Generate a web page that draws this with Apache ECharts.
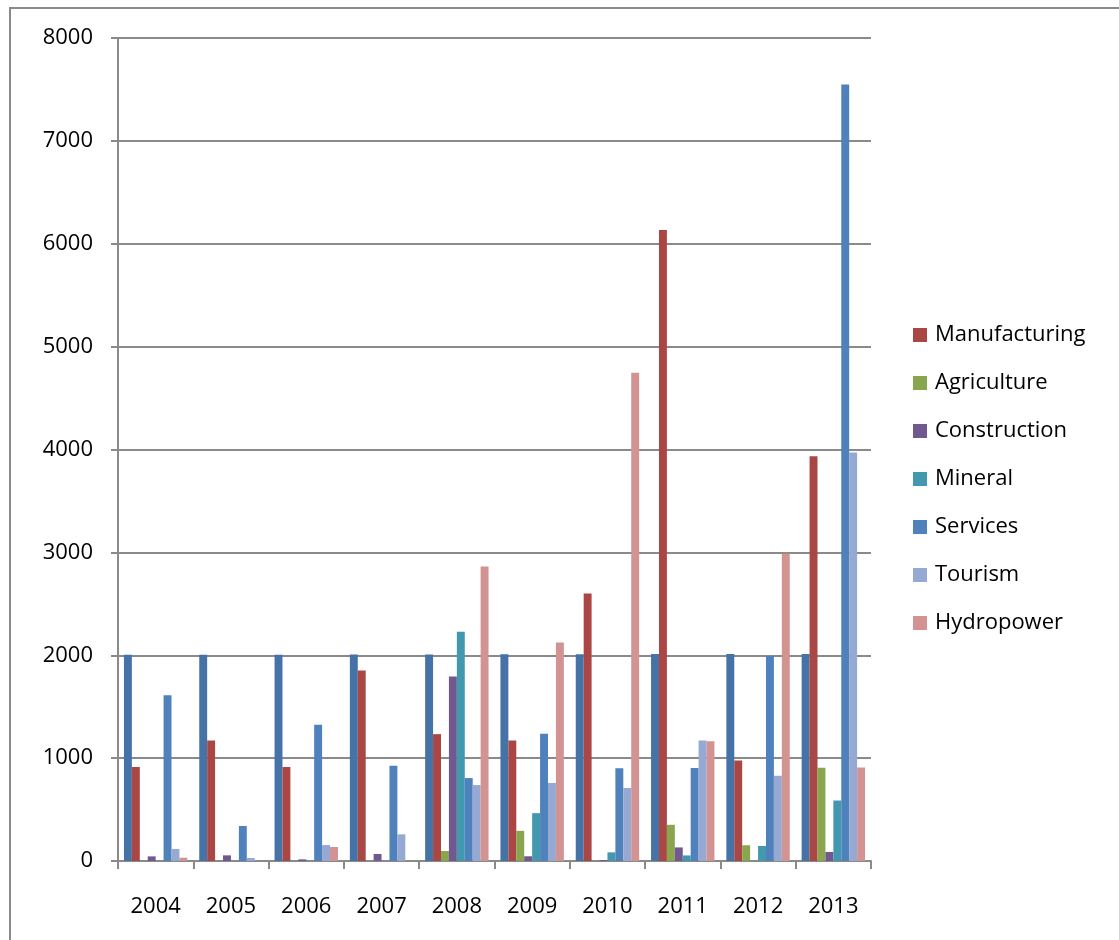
<!DOCTYPE html>
<html>
<head>
<meta charset="utf-8">
<title>Investment by sector, 2004–2013</title>
<script src="https://cdn.jsdelivr.net/npm/echarts@6/dist/echarts.min.js"></script>
<style>
  html, body { margin: 0; padding: 0; background: #ffffff; }
  #chart { width: 1119px; height: 940px; }
</style>
</head>
<body>
<div id="chart"></div>
<script>
// Categories and values per sector
const years = ['2004', '2005', '2006', '2007', '2008', '2009', '2010', '2011', '2012', '2013'];
const yearValues = [2004, 2005, 2006, 2007, 2008, 2009, 2010, 2011, 2012, 2013];
const manufacturing = [913, 1172, 913, 1851, 1233, 1171, 2600, 6134, 978, 3935];
const agriculture = [0, 0, 0, 0, 97, 293, 0, 352, 153, 907];
const construction = [45, 55, 16, 68, 1793, 46, 10, 132, 0, 88];
const mineral = [0, 0, 0, 0, 2228, 465, 84, 54, 146, 588];
const services = [1612, 340, 1324, 926, 806, 1236, 902, 905, 1992, 7548];
const tourism = [117, 29, 155, 259, 738, 758, 710, 1172, 829, 3970];
const hydropower = [32, 0, 136, 0, 2862, 2124, 4745, 1165, 2987, 910];
const yTicks = { min: 0, max: 8000, interval: 1000 };

const FONT = '"Open Sans", "Liberation Sans", sans-serif';
const GRID_COLOR = '#8a8a8a';

const seriesDefs = [
  { name: 'Year', data: yearValues, color: '#4572A7' },
  { name: 'Manufacturing', data: manufacturing, color: '#AA4643' },
  { name: 'Agriculture', data: agriculture, color: '#89A54E' },
  { name: 'Construction', data: construction, color: '#71588F' },
  { name: 'Mineral', data: mineral, color: '#4198AF' },
  { name: 'Services', data: services, color: '#4F81BD' },
  { name: 'Tourism', data: tourism, color: '#95A9D3' },
  { name: 'Hydropower', data: hydropower, color: '#D39392' }
];

const chart = echarts.init(document.getElementById('chart'), null, { renderer: 'canvas' });

chart.setOption({
  backgroundColor: '#ffffff',
  animation: false,
  textStyle: { fontFamily: FONT },
  graphic: [{
    type: 'rect',
    silent: true,
    shape: { x: 10, y: 8, width: 1300, height: 1100 },
    style: { fill: 'none', stroke: '#8a8a8a', lineWidth: 2 },
    z: -10
  }],
  grid: { left: 118, right: 248, top: 38, bottom: 79, containLabel: false },
  legend: {
    orient: 'vertical',
    left: 913,
    top: 324,
    padding: 0,
    itemWidth: 14,
    itemHeight: 14,
    itemGap: 26,
    icon: 'rect',
    data: seriesDefs.slice(1).map(s => s.name),
    textStyle: { fontFamily: FONT, fontSize: 22, color: '#000000', lineHeight: 21, padding: [0, 0, 0, 3] }
  },
  xAxis: {
    type: 'category',
    data: years,
    axisLine: { show: true, lineStyle: { color: GRID_COLOR, width: 2 } },
    axisTick: { show: true, alignWithLabel: false, length: 8, lineStyle: { color: GRID_COLOR, width: 2 } },
    axisLabel: { margin: 35, fontFamily: FONT, fontSize: 22, color: '#000000' },
    splitLine: { show: false }
  },
  yAxis: {
    type: 'value',
    min: yTicks.min,
    max: yTicks.max,
    interval: yTicks.interval,
    axisLine: { show: true, lineStyle: { color: GRID_COLOR, width: 2 } },
    axisTick: { show: true, inside: false, length: 7, lineStyle: { color: GRID_COLOR, width: 2 } },
    axisLabel: { margin: 25, fontFamily: FONT, fontSize: 22, color: '#000000', formatter: v => String(v) },
    splitLine: { show: true, lineStyle: { color: GRID_COLOR, width: 2 } }
  },
  series: seriesDefs.map(s => ({
    name: s.name,
    type: 'bar',
    data: s.data,
    barGap: '0%',
    barCategoryGap: '15.8%',
    itemStyle: { color: s.color },
    emphasis: { disabled: true }
  }))
});
</script>
</body>
</html>
